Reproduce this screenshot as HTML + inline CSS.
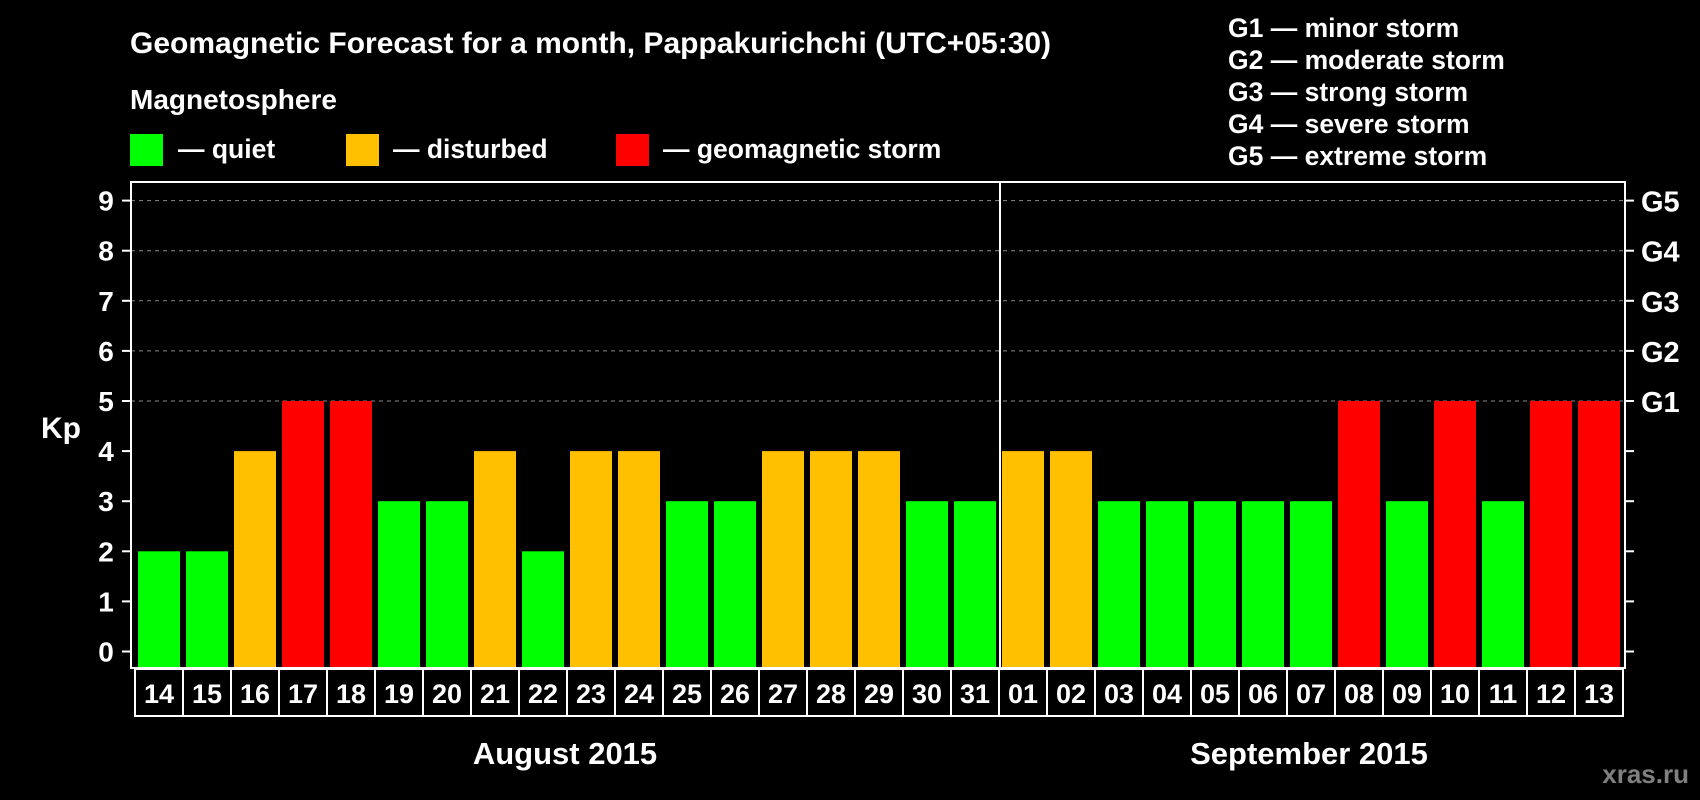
<!DOCTYPE html>
<html><head><meta charset="utf-8"><style>
body{margin:0;background:#000;width:1700px;height:800px;overflow:hidden;font-family:"Liberation Sans",sans-serif;font-weight:bold;color:#fff}
svg{position:absolute;left:0;top:0}
text{font-family:"Liberation Sans",sans-serif;font-weight:bold;fill:#fff}
</style></head><body>
<svg width="1700" height="800">
<text x="130" y="53" font-size="30">Geomagnetic Forecast for a month, Pappakurichchi (UTC+05:30)</text>
<text x="130" y="109" font-size="28">Magnetosphere</text>
<rect x="130" y="134" width="33" height="32" fill="#00ff00"/>
<text x="178" y="158" font-size="26.5">— quiet</text>
<rect x="346" y="134" width="33" height="32" fill="#ffc000"/>
<text x="393" y="158" font-size="26.5">— disturbed</text>
<rect x="616" y="134" width="33" height="32" fill="#ff0000"/>
<text x="663" y="158" font-size="26.5">— geomagnetic storm</text>
<g font-size="26.5">
<text x="1228" y="37">G1 — minor storm</text>
<text x="1228" y="69">G2 — moderate storm</text>
<text x="1228" y="101">G3 — strong storm</text>
<text x="1228" y="133">G4 — severe storm</text>
<text x="1228" y="165">G5 — extreme storm</text>
</g>
<g id="plot"></g>
<text x="565" y="764" font-size="31" text-anchor="middle">August 2015</text>
<text x="1309" y="764" font-size="31" text-anchor="middle">September 2015</text>
<text x="1689" y="783" font-size="26" text-anchor="end" style="fill:#808080">xras.ru</text>
</svg>
<script>
const days=["14","15","16","17","18","19","20","21","22","23","24","25","26","27","28","29","30","31","01","02","03","04","05","06","07","08","09","10","11","12","13"];
const kp=[2,2,4,5,5,3,3,4,2,4,4,3,3,4,4,4,3,3,4,4,3,3,3,3,3,5,3,5,3,5,5];
const yTicks=[0,1,2,3,4,5,6,7,8,9];
const gLabels=["G1","G2","G3","G4","G5"];
const NS="http://www.w3.org/2000/svg";
const g=document.getElementById('plot');
const L=131,R=1625,T=182,B=668,x0=135,pitch=48;
const y=v=>651.5-v*50.1;
function mk(t,a){const e=document.createElementNS(NS,t);for(const k in a)e.setAttribute(k,a[k]);g.appendChild(e);return e;}
yTicks.forEach(v=>{
 if(v>=5){const l=mk('line',{x1:L,x2:R,y1:y(v),y2:y(v),stroke:'#888','stroke-dasharray':'4,4','stroke-width':1});
 
 }
 mk('line',{x1:122,x2:L,y1:y(v),y2:y(v),stroke:'#fff','stroke-width':2});
 mk('line',{x1:R,x2:1634,y1:y(v),y2:y(v),stroke:'#fff','stroke-width':2});
 const t=mk('text',{x:106,y:y(v)+10,'font-size':28,'text-anchor':'middle'});t.textContent=v;
 
 
});
gLabels.forEach((s,i)=>{const t=mk('text',{x:1641,y:y(5+i)+11,'font-size':29});t.textContent=s;
 
 });
const kpT=mk('text',{x:41,y:438,'font-size':30});kpT.textContent='Kp';


kp.forEach((v,i)=>{
 const c=v>=5?'#ff0000':v>=4?'#ffc000':'#00ff00';
 const r=mk('rect',{x:x0+i*pitch+3,y:y(v),width:42,height:B-1-y(v),fill:c});
 
 
 mk('rect',{x:x0+i*pitch,y:669,width:pitch,height:47,fill:'none',stroke:'#fff','stroke-width':2});
 const t=mk('text',{x:x0+i*pitch+pitch/2,y:703,'font-size':27,'text-anchor':'middle'});t.textContent=days[i];
 
 
});
mk('rect',{x:L,y:T,width:R-L,height:B-T,fill:'none',stroke:'#fff','stroke-width':2});
const sep=days.indexOf("01");
mk('line',{x1:x0+sep*pitch+1,x2:x0+sep*pitch+1,y1:T,y2:B,stroke:'#fff','stroke-width':2});
</script>
</body></html>
